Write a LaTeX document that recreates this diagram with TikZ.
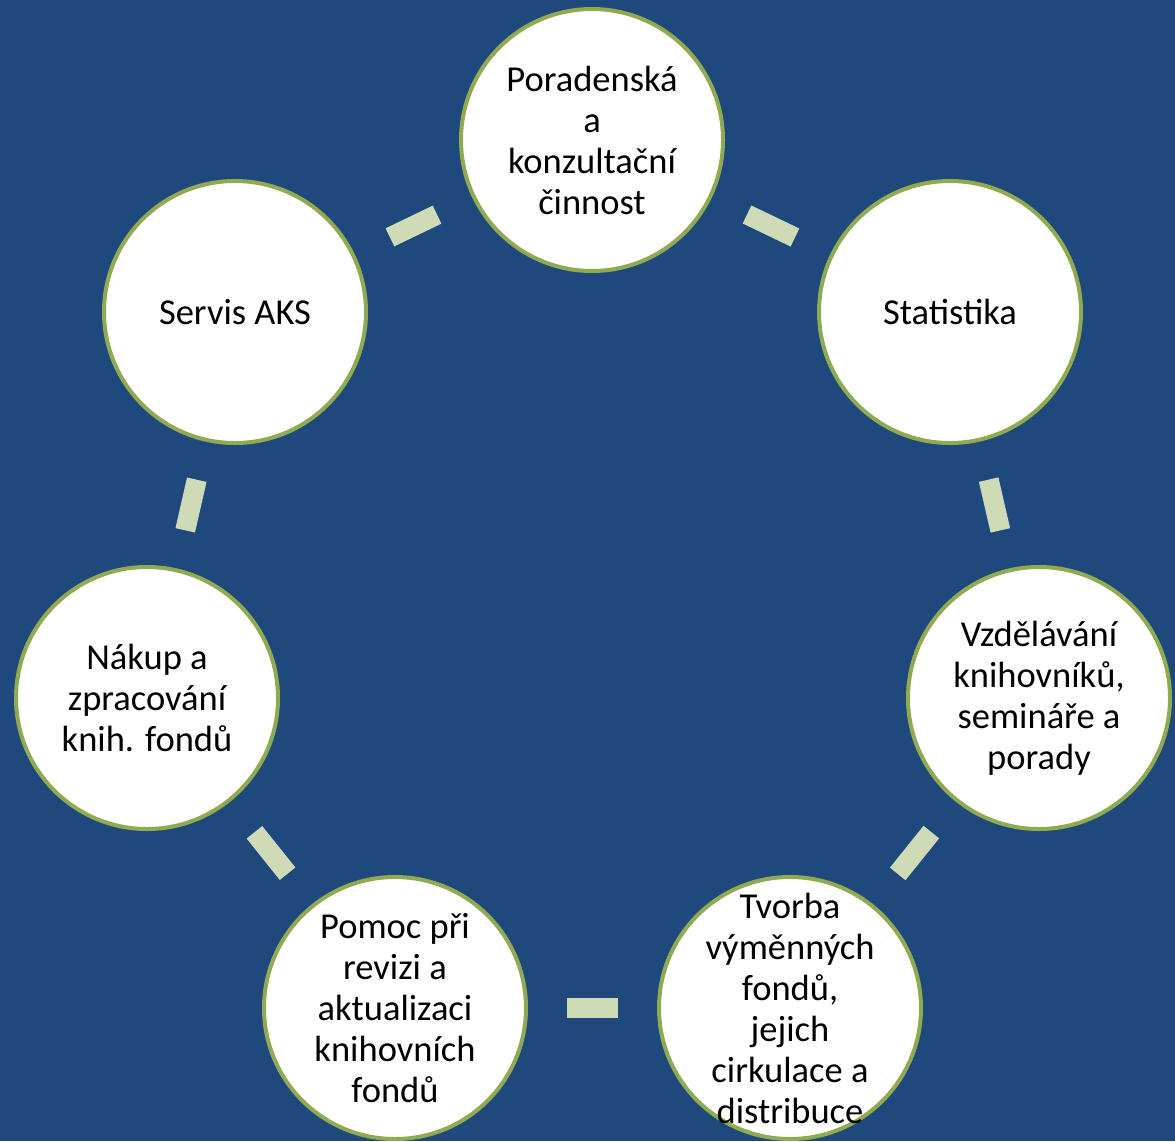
\documentclass[tikz,border=0pt]{standalone}
\usepackage{fontspec}
\setmainfont{Carlito}
\definecolor{bg}{RGB}{31,73,125}
\definecolor{ring}{RGB}{143,170,80}
\definecolor{link}{RGB}{206,219,182}
\begin{document}
\begin{tikzpicture}[x=1pt,y=-1pt,
  item/.style={circle,draw=ring,fill=white,line width=4pt,minimum size=262pt,inner sep=0pt},
  lbl/.style={align=center,inner sep=0pt,font=\fontsize{36.5}{41}\selectfont,text=black},
  conn/.style={draw=link,line width=20pt,shorten >=172pt,shorten <=172pt}]
\fill[bg] (0,0) rectangle (1175,1141);
\useasboundingbox (0,0) rectangle (1175,1141);
\node[item] (n1) at (592,140) {};
\node[item] (n2) at (950,312) {};
\node[item] (n3) at (1039,698) {};
\node[item] (n4) at (790,1008) {};
\node[item] (n5) at (395,1008) {};
\node[item] (n6) at (147,698) {};
\node[item] (n7) at (235,312) {};
\node[lbl] (t1) at (n1.center) {Poradenská\\a\\konzultační\\činnost};
\node[lbl] (t2) at (n2.center) {Statistika};
\node[lbl] (t3) at (n3.center) {Vzdělávání\\knihovníků,\\semináře a\\porady};
\node[lbl] (t4) at (n4.center) {Tvorba\\výměnných\\fondů,\\jejich\\cirkulace a\\distribuce};
\node[lbl] (t5) at (n5.center) {Pomoc při\\revizi a\\aktualizaci\\knihovních\\fondů};
\node[lbl] (t6) at (n6.center) {Nákup a\\zpracování\\knih. fondů};
\node[lbl] (t7) at (n7.center) {Servis AKS};
\foreach \a/\b in {n1/n2,n2/n3,n3/n4,n4/n5,n5/n6,n6/n7,n7/n1}
  \draw[conn] (\a.center) -- (\b.center);
\end{tikzpicture}
\end{document}
